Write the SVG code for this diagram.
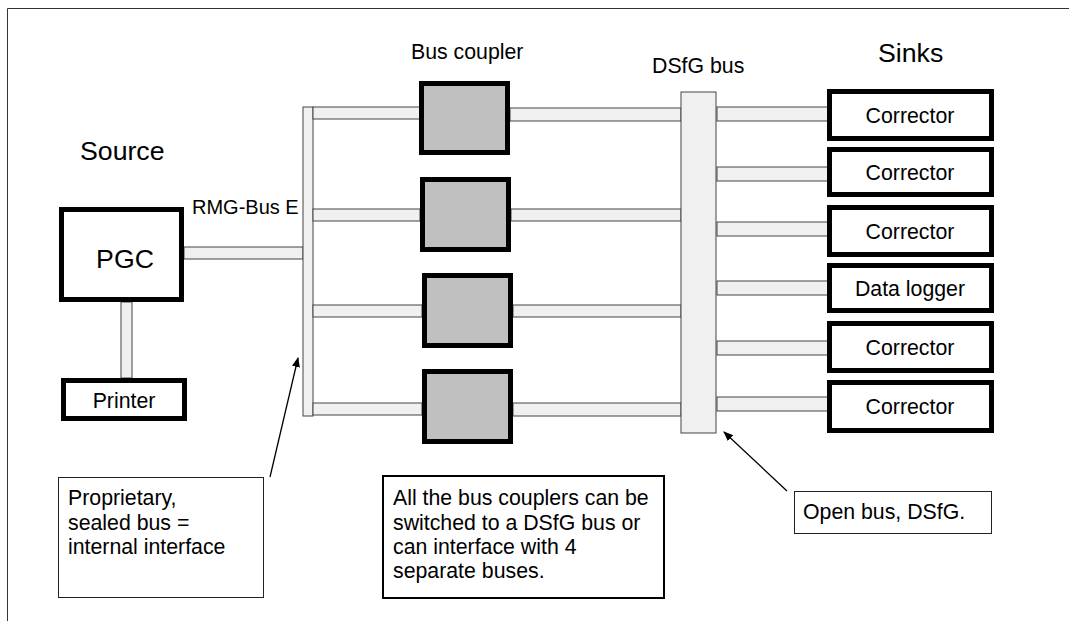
<svg xmlns="http://www.w3.org/2000/svg" width="1069" height="621" viewBox="0 0 1069 621">
<style>
text{font-family:"Liberation Sans",Arial,sans-serif;fill:#000}
.t21{font-size:21.3px}
.t20{font-size:20px}
.t27{font-size:26.7px}
.bar{fill:#f0f0f0;stroke:#444;stroke-width:1}
.cpl{fill:#c0c0c0;stroke:#000;stroke-width:5}
.box{fill:#fff;stroke:#000;stroke-width:5}
.note{fill:#fff;stroke:#222;stroke-width:1}
.arrow{stroke:#000;stroke-width:1.3;fill:none;marker-end:url(#ah)}
</style>
<defs>
<marker id="ah" viewBox="0 0 10 10" refX="9" refY="5" markerWidth="10" markerHeight="10" markerUnits="userSpaceOnUse" orient="auto">
<path d="M0,1 L10,5 L0,9 Z" fill="#000"/>
</marker>
</defs>
<rect width="1069" height="621" fill="#fff"/>
<path d="M7.5,621 V8.5 H1069" fill="none" stroke="#333" stroke-width="1"/>
<text class="t27" x="80" y="160">Source</text>
<text class="t20" x="192" y="214">RMG-Bus E</text>
<text class="t21" x="411" y="59">Bus coupler</text>
<text class="t21" x="652" y="73">DSfG bus</text>
<text class="t27" x="878" y="62">Sinks</text>
<g id="connectors">
<rect class="bar" x="184" y="247" width="119" height="12"/>
<rect class="bar" x="121" y="302" width="11" height="76"/>
<rect class="bar" x="303" y="107" width="10" height="309"/>
<rect class="bar" x="313" y="107" width="107" height="12"/>
<rect class="bar" x="313" y="209" width="107" height="12"/>
<rect class="bar" x="313" y="305" width="109" height="12"/>
<rect class="bar" x="313" y="403" width="109" height="12"/>
<rect class="bar" x="510" y="108" width="171" height="13"/>
<rect class="bar" x="511" y="209" width="170" height="12"/>
<rect class="bar" x="513" y="305" width="168" height="12"/>
<rect class="bar" x="513" y="403" width="168" height="13"/>
<rect class="bar" x="717" y="107" width="111" height="14"/>
<rect class="bar" x="717" y="167" width="111" height="14"/>
<rect class="bar" x="717" y="222" width="111" height="14"/>
<rect class="bar" x="717" y="281" width="111" height="14"/>
<rect class="bar" x="717" y="341" width="111" height="14"/>
<rect class="bar" x="717" y="397" width="111" height="14"/>
<line class="arrow" x1="270" y1="477" x2="298" y2="358"/>
<line class="arrow" x1="787" y1="491" x2="724" y2="432"/>
</g>
<g id="dsfg-bus"><rect class="bar" x="681" y="92" width="35" height="341"/></g>
<g id="pgc"><rect class="box" x="61.5" y="209.5" width="120" height="90"/><text class="t27" x="125" y="268" text-anchor="middle">PGC</text></g>
<g id="printer"><rect class="box" x="63.5" y="380.5" width="121" height="38"/><text class="t21" x="124" y="408" text-anchor="middle">Printer</text></g>
<g id="coupler1"><rect class="cpl" x="421.5" y="83.5" width="86" height="69"/></g>
<g id="coupler2"><rect class="cpl" x="422.5" y="179.5" width="86" height="70"/></g>
<g id="coupler3"><rect class="cpl" x="424.5" y="275.5" width="86" height="70"/></g>
<g id="coupler4"><rect class="cpl" x="424.5" y="371.5" width="86" height="70"/></g>
<g id="sink1"><rect class="box" x="829.5" y="91.5" width="162" height="47"/><text class="t21" x="910" y="122.5" text-anchor="middle">Corrector</text></g>
<g id="sink2"><rect class="box" x="829.5" y="149.5" width="162" height="45"/><text class="t21" x="910" y="179.5" text-anchor="middle">Corrector</text></g>
<g id="sink3"><rect class="box" x="829.5" y="207.5" width="162" height="47"/><text class="t21" x="910" y="238.5" text-anchor="middle">Corrector</text></g>
<g id="sink4"><rect class="box" x="829.5" y="265.5" width="162" height="45"/><text class="t21" x="910" y="295.5" text-anchor="middle">Data logger</text></g>
<g id="sink5"><rect class="box" x="829.5" y="323.5" width="162" height="47"/><text class="t21" x="910" y="354.5" text-anchor="middle">Corrector</text></g>
<g id="sink6"><rect class="box" x="829.5" y="382.5" width="162" height="48"/><text class="t21" x="910" y="414" text-anchor="middle">Corrector</text></g>
<g id="note-proprietary"><rect class="note" x="58.5" y="477.5" width="205" height="120"/>
<text class="t21" x="68"><tspan x="68" y="505">Proprietary,</tspan><tspan x="68" y="529.5">sealed bus =</tspan><tspan x="68" y="554">internal interface</tspan></text></g>
<g id="note-couplers"><rect class="note" style="stroke:#000;stroke-width:2" x="383" y="476" width="281" height="122"/>
<text class="t21" x="393"><tspan x="393" y="505">All the bus couplers can be</tspan><tspan x="393" y="529.5">switched to a DSfG bus or</tspan><tspan x="393" y="554">can interface with 4</tspan><tspan x="393" y="578">separate buses.</tspan></text></g>
<g id="note-open"><rect class="note" x="794.5" y="491.5" width="197" height="42"/><text class="t21" x="803" y="519">Open bus, DSfG.</text></g>
</svg>
